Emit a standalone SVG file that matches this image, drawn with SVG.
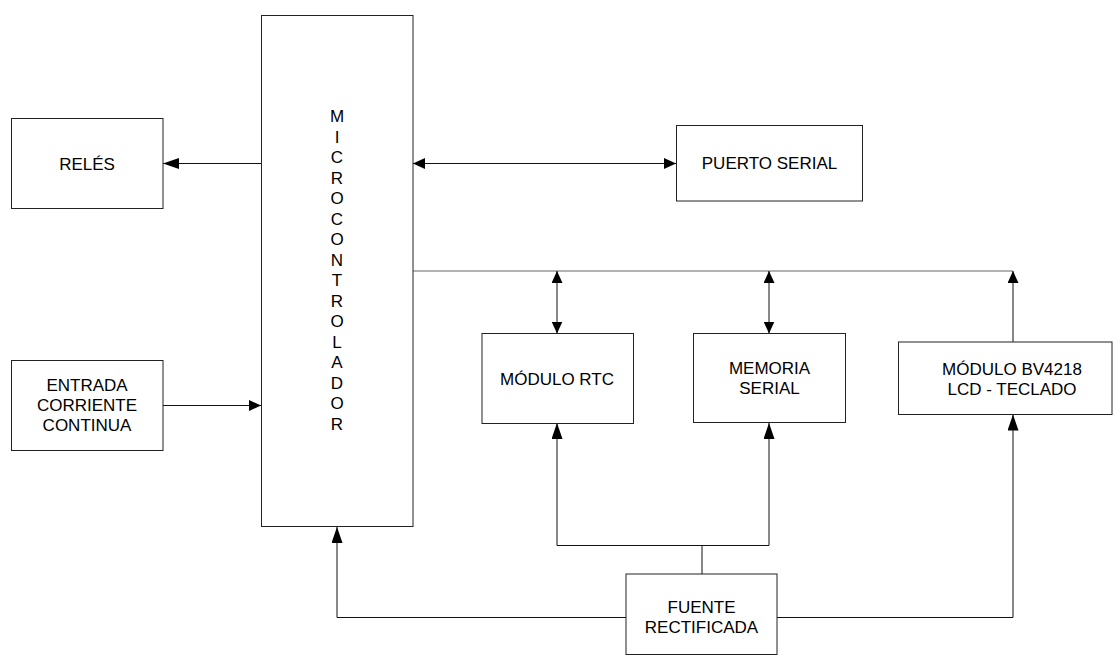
<svg xmlns="http://www.w3.org/2000/svg" width="1115" height="655" viewBox="0 0 1115 655">
<style>
.box{fill:#fff;stroke:#222;stroke-width:1}
.t{font-family:"Liberation Sans",Arial,sans-serif;font-size:17px;fill:#000;text-anchor:middle}
.c{fill:none;stroke:#111;stroke-width:1}
.bus{fill:none;stroke:#666;stroke-width:1.2}
</style>
<defs>
<marker id="big" viewBox="0 0 16 11" refX="16" refY="5.5" markerWidth="16" markerHeight="11" markerUnits="userSpaceOnUse" orient="auto-start-reverse"><path d="M0,0 L16,5.5 L0,11 z" fill="#000"/></marker>
<marker id="sm" viewBox="0 0 12 11" refX="12" refY="5.5" markerWidth="12" markerHeight="11" markerUnits="userSpaceOnUse" orient="auto-start-reverse"><path d="M0,0 L12,5.5 L0,11 z" fill="#000"/></marker>
</defs>
<rect width="1115" height="655" fill="#fff"/>
<g id="connectors">
<path class="c" d="M261,163.5 L163,163.5" marker-end="url(#big)"/>
<path class="c" d="M413,163.5 L676,163.5" marker-start="url(#sm)" marker-end="url(#sm)"/>
<path class="c" d="M163,405.5 L261,405.5" marker-end="url(#sm)"/>
<path class="bus" d="M413,271 L1013,271"/>
<path class="c" d="M557,271 L557,333.5" marker-start="url(#sm)" marker-end="url(#sm)"/>
<path class="c" d="M769,271 L769,333.5" marker-start="url(#sm)" marker-end="url(#sm)"/>
<path class="c" d="M1013,342 L1013,271" marker-end="url(#sm)"/>
<path class="c" d="M626,617.5 L337,617.5 L337,527" marker-end="url(#big)"/>
<path class="c" d="M702,574 L702,545.5"/>
<path class="c" d="M557,545.5 L769,545.5"/>
<path class="c" d="M557,545.5 L557,423" marker-end="url(#big)"/>
<path class="c" d="M769,545.5 L769,423" marker-end="url(#big)"/>
<path class="c" d="M777,617.5 L1013,617.5 L1013,414.5" marker-end="url(#big)"/>
</g>
<g id="micro">
<rect class="box" x="261.5" y="15.5" width="151.5" height="511"/>
<text class="t">
<tspan x="337" y="122">M</tspan><tspan x="337" y="142.5">I</tspan><tspan x="337" y="163">C</tspan><tspan x="337" y="183.5">R</tspan><tspan x="337" y="204">O</tspan><tspan x="337" y="224.5">C</tspan><tspan x="337" y="245">O</tspan><tspan x="337" y="265.5">N</tspan><tspan x="337" y="286">T</tspan><tspan x="337" y="306.5">R</tspan><tspan x="337" y="327">O</tspan><tspan x="337" y="347.5">L</tspan><tspan x="337" y="368">A</tspan><tspan x="337" y="388.5">D</tspan><tspan x="337" y="409">O</tspan><tspan x="337" y="429.5">R</tspan>
</text>
</g>
<g id="reles">
<rect class="box" x="11.5" y="118.5" width="151.5" height="90"/>
<text class="t" x="87" y="169.5">RELÉS</text>
</g>
<g id="entrada">
<rect class="box" x="11.5" y="360.5" width="151.5" height="90"/>
<text class="t" x="87" y="391">ENTRADA</text>
<text class="t" x="87" y="411">CORRIENTE</text>
<text class="t" x="87" y="431">CONTINUA</text>
</g>
<g id="puerto">
<rect class="box" x="676.5" y="125.5" width="186" height="75.5"/>
<text class="t" x="769.5" y="169">PUERTO SERIAL</text>
</g>
<g id="rtc">
<rect class="box" x="482" y="333.5" width="151.5" height="90"/>
<text class="t" x="557" y="384.5">MÓDULO RTC</text>
</g>
<g id="memoria">
<rect class="box" x="693.5" y="333.5" width="152" height="89"/>
<text class="t" x="769.5" y="373.5">MEMORIA</text>
<text class="t" x="769.5" y="394">SERIAL</text>
</g>
<g id="bv4218">
<rect class="box" x="898.5" y="342" width="213.5" height="72.5"/>
<text class="t" x="1012" y="374.5">MÓDULO BV4218</text>
<text class="t" x="1012" y="394.5">LCD - TECLADO</text>
</g>
<g id="fuente">
<rect class="box" x="626" y="574" width="151" height="80.5"/>
<text class="t" x="701.5" y="613">FUENTE</text>
<text class="t" x="701.5" y="633">RECTIFICADA</text>
</g>
</svg>
